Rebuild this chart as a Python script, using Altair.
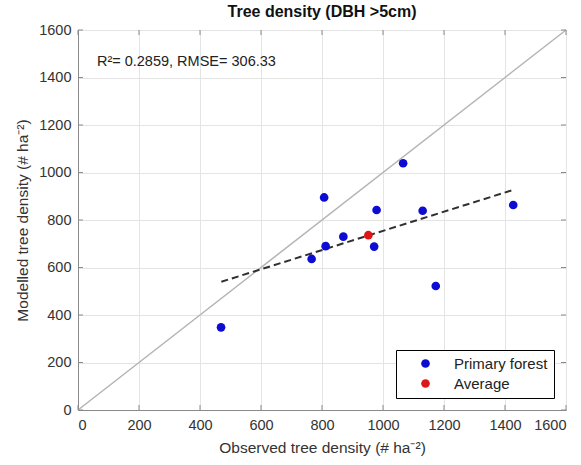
import altair as alt
import pandas as pd

# Observed vs modelled tree density (primary forest plots)
obs_primary = [1066, 807, 979, 1130, 1427, 870, 812, 971, 766, 1173, 469]
mod_primary = [1039, 895, 842, 839, 863, 730, 690, 688, 636, 522, 348]
obs_average = [952]
mod_average = [736]
fit_x = [470, 1430]
fit_y = [540, 928]
identity = [0, 1600]
tick_vals = [0, 200, 400, 600, 800, 1000, 1200, 1400, 1600]
stats_text = ["R\u00b2= 0.2859, RMSE= 306.33"]
stats_pos = [62, 1465]

FONT = "Liberation Sans"
W, H = 488, 380

pts = pd.DataFrame({
    "obs": obs_primary + obs_average,
    "mod": mod_primary + mod_average,
    "group": ["Primary forest"] * len(obs_primary) + ["Average"] * len(obs_average),
})
fit = pd.DataFrame({"x": fit_x, "y": fit_y})
ident = pd.DataFrame({"x": identity, "y": identity})
ticks = pd.DataFrame({"t": tick_vals})
ann = pd.DataFrame({"x": [stats_pos[0]], "y": [stats_pos[1]], "label": stats_text})

xs = alt.Scale(domain=[0, 1600], nice=False)
ys = alt.Scale(domain=[0, 1600], nice=False)

x_axis = alt.Axis(values=tick_vals, format="d", grid=True, ticks=False, labelPadding=8,
                  title="Observed tree density (# ha\u207b\u00b2)", titlePadding=9)
y_axis = alt.Axis(values=tick_vals, format="d", grid=True, ticks=False, labelPadding=7,
                  title="Modelled tree density (# ha\u207b\u00b2)", titlePadding=8)

ident_line = alt.Chart(ident).mark_line(color="#b4b4b4", strokeWidth=1.5).encode(
    x=alt.X("x:Q", scale=xs, axis=x_axis),
    y=alt.Y("y:Q", scale=ys, axis=y_axis),
)

fit_line = alt.Chart(fit).mark_line(color="#303030", strokeWidth=2, strokeDash=[7, 4]).encode(
    x=alt.X("x:Q", scale=xs),
    y=alt.Y("y:Q", scale=ys),
)

points = alt.Chart(pts).mark_circle(size=75, opacity=1).encode(
    x=alt.X("obs:Q", scale=xs),
    y=alt.Y("mod:Q", scale=ys),
    color=alt.Color(
        "group:N",
        scale=alt.Scale(domain=["Primary forest", "Average"], range=["#0c0cd2", "#e01515"]),
        legend=alt.Legend(
            title=None, orient="bottom-right", offset=12,
            strokeColor="#000000", fillColor="#ffffff",
            padding=6, symbolOffset=16, labelOffset=21, rowPadding=4,
            symbolSize=75, symbolType="circle", labelFontSize=15, labelFont=FONT,
            labelColor="#222222",
        ),
    ),
)

text = alt.Chart(ann).mark_text(align="left", baseline="middle", fontSize=14.5, font=FONT,
                                color="#222222").encode(
    x=alt.X("x:Q", scale=xs),
    y=alt.Y("y:Q", scale=ys),
    text="label:N",
)

tick_color = "#8a8a8a"
xt_bot = alt.Chart(ticks).mark_rule(color=tick_color).encode(
    x=alt.X("t:Q", scale=xs), y=alt.value(H), y2=alt.value(H - 5))
xt_top = alt.Chart(ticks).mark_rule(color=tick_color).encode(
    x=alt.X("t:Q", scale=xs), y=alt.value(0), y2=alt.value(5))
yt_left = alt.Chart(ticks).mark_rule(color=tick_color).encode(
    y=alt.Y("t:Q", scale=ys), x=alt.value(0), x2=alt.value(5))
yt_right = alt.Chart(ticks).mark_rule(color=tick_color).encode(
    y=alt.Y("t:Q", scale=ys), x=alt.value(W), x2=alt.value(W - 5))

chart = alt.layer(ident_line, fit_line, xt_bot, xt_top, yt_left, yt_right, points, text).properties(
    width=W, height=H,
    title=alt.TitleParams("Tree density (DBH >5cm)", fontSize=16, font=FONT, fontWeight="bold",
                          anchor="middle", frame="group", offset=2, color="#111111"),
    autosize=alt.AutoSizeParams(type="none"),
    padding={"left": 78, "top": 30, "right": 15, "bottom": 55},
).configure_view(
    stroke="#8a8a8a", strokeWidth=1
).configure_axis(
    labelFont=FONT, titleFont=FONT, labelFontSize=14.5, titleFontSize=15.5,
    labelColor="#333333", titleColor="#333333", titleFontWeight="normal",
    gridColor="#e4e4e4", domainColor="#8a8a8a",
)

chart.save("out.html", embed_options={"renderer": "svg", "actions": False})
